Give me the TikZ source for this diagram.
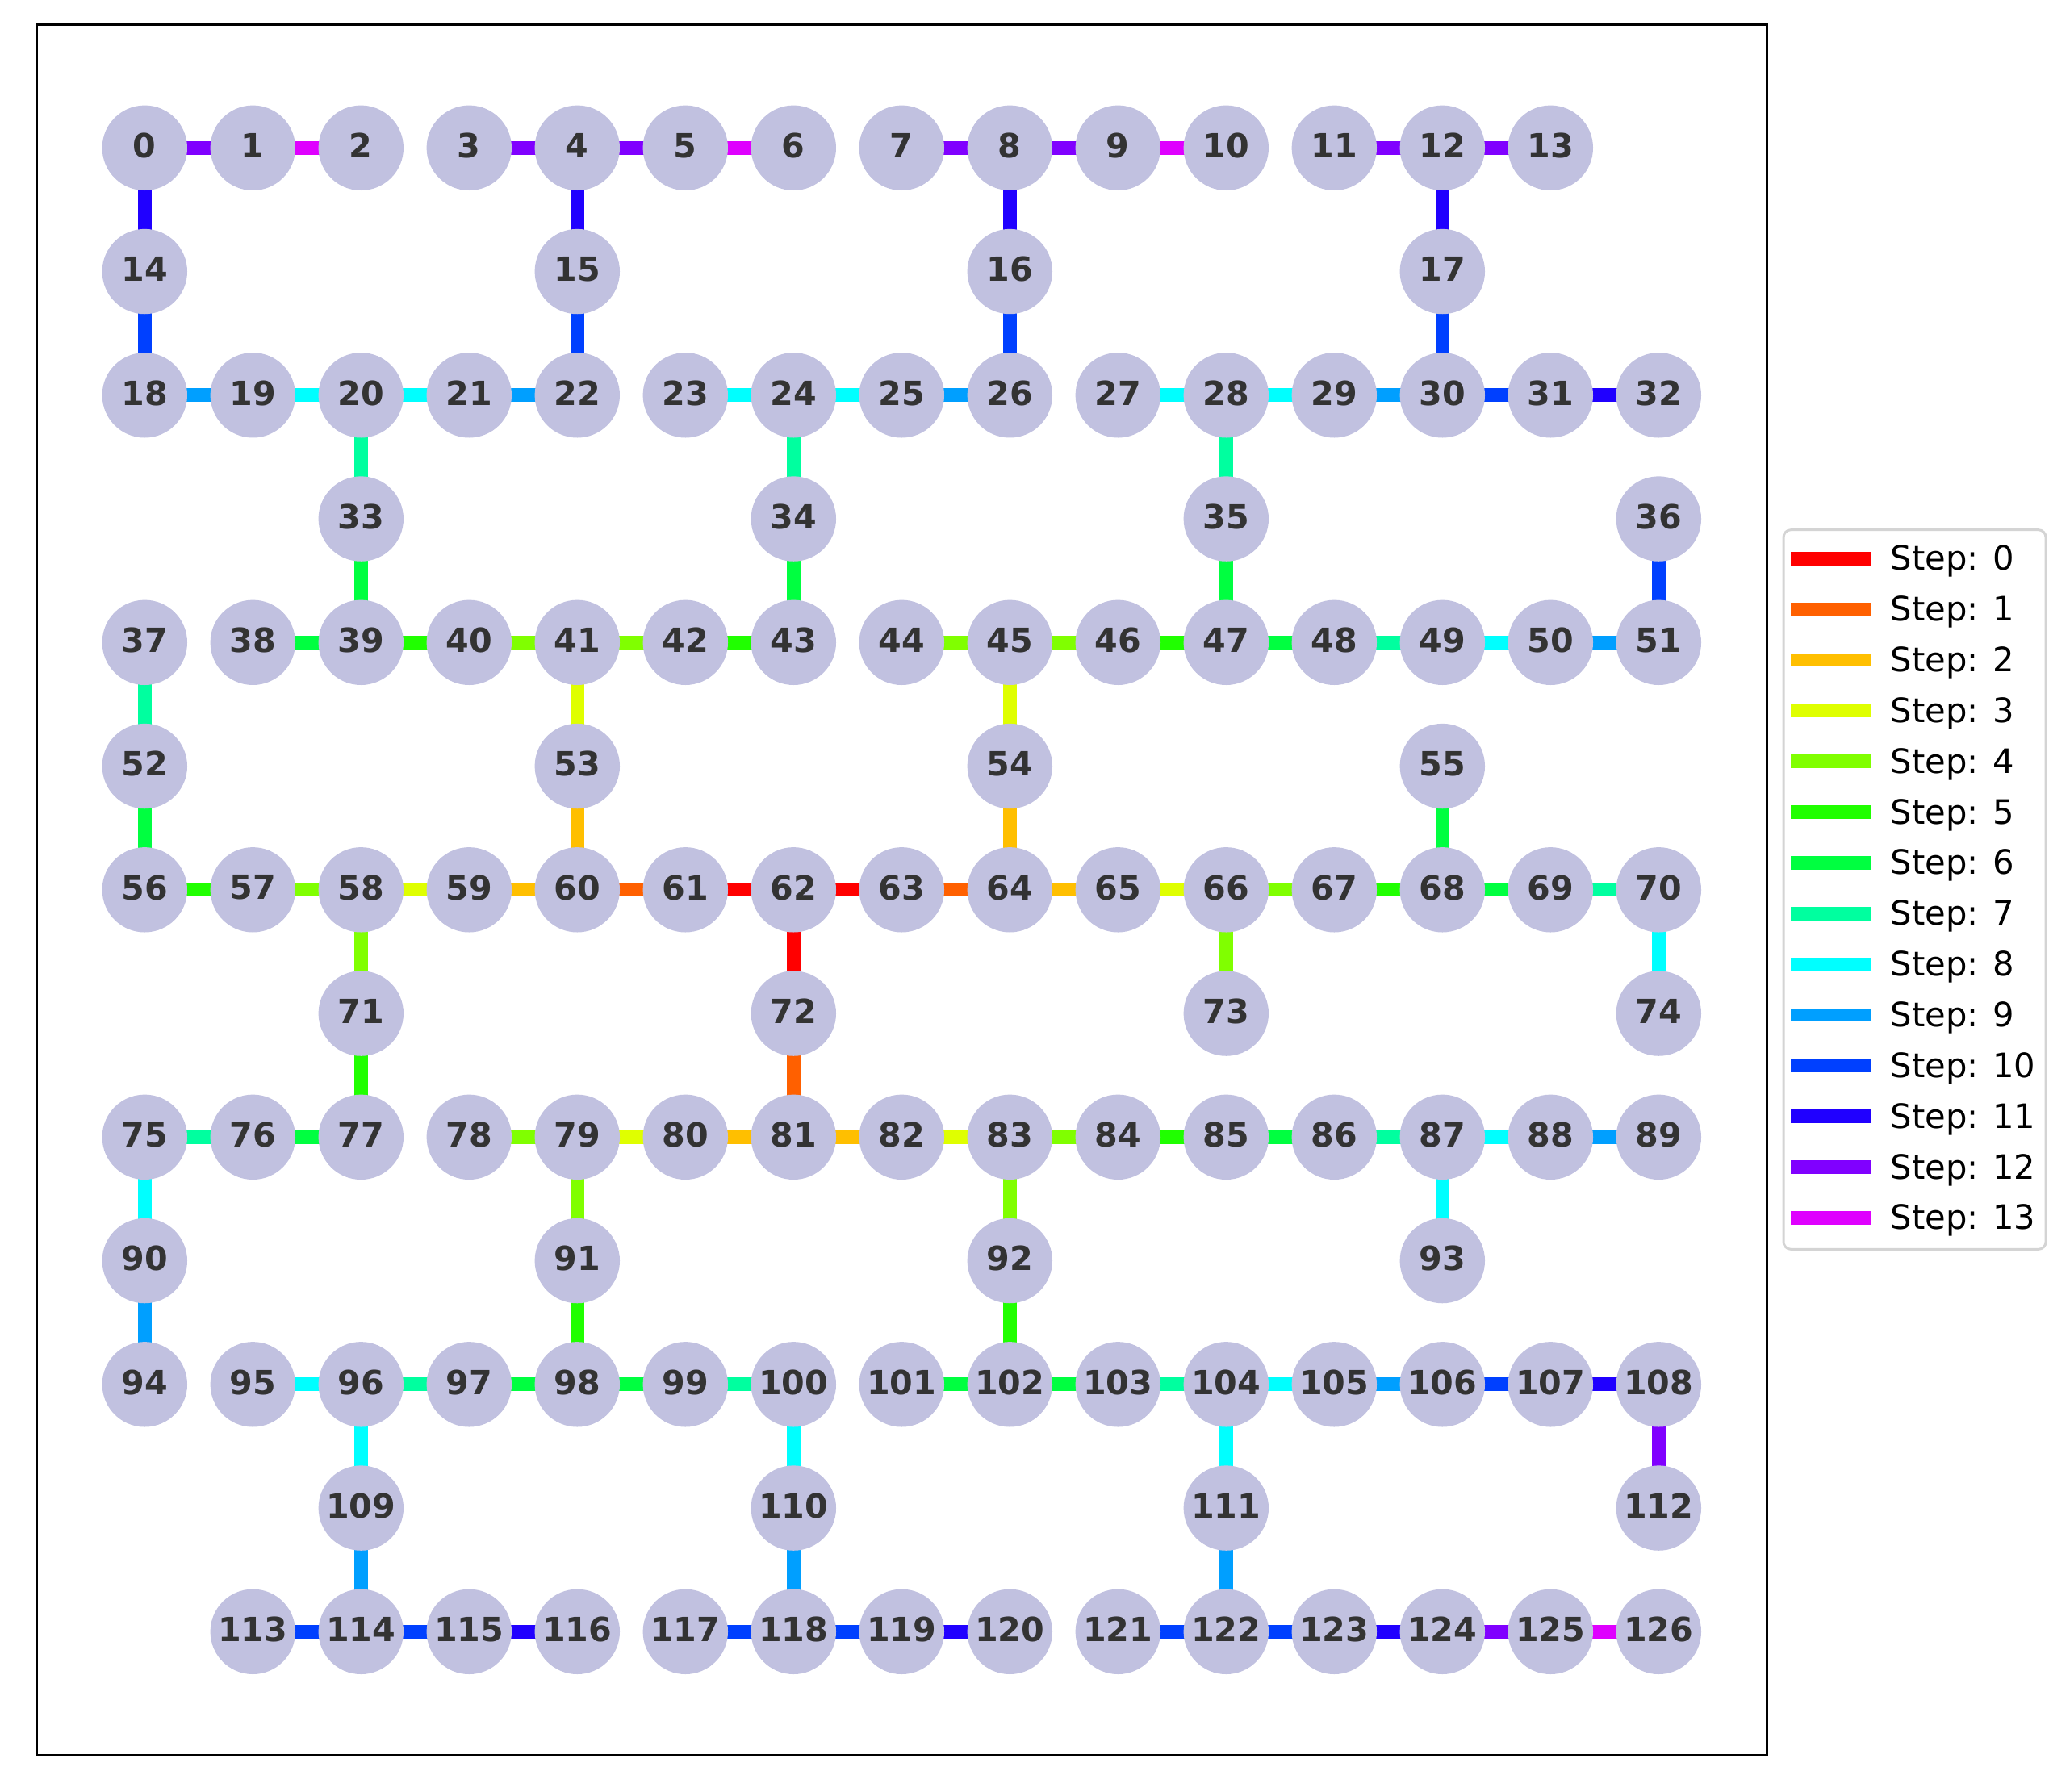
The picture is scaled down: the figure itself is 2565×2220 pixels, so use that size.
\documentclass[tikz,border=0pt]{standalone}
\usepackage{fontspec}
\setmainfont{DejaVu Sans}
\usetikzlibrary{backgrounds}
\definecolor{s0}{RGB}{255,0,0}
\definecolor{s1}{RGB}{255,96,0}
\definecolor{s2}{RGB}{255,191,0}
\definecolor{s3}{RGB}{223,255,0}
\definecolor{s4}{RGB}{128,255,0}
\definecolor{s5}{RGB}{32,255,0}
\definecolor{s6}{RGB}{0,255,64}
\definecolor{s7}{RGB}{0,255,159}
\definecolor{s8}{RGB}{0,255,255}
\definecolor{s9}{RGB}{0,159,255}
\definecolor{s10}{RGB}{0,64,255}
\definecolor{s11}{RGB}{32,0,255}
\definecolor{s12}{RGB}{128,0,255}
\definecolor{s13}{RGB}{223,0,255}
\definecolor{nodefill}{RGB}{193,193,224}
\definecolor{lbl}{RGB}{51,51,51}
\definecolor{legedge}{RGB}{212,212,212}
\tikzset{
  vtx/.style={circle, fill=nodefill, minimum size=25.3pt, inner sep=0pt, text=lbl,
    font=\fontsize{9.9}{11}\selectfont\bfseries, text depth=1.44pt},
  stepline/.style={line width=4pt, draw=#1},
  legtext/.style={anchor=base west, inner sep=0pt, font=\fontsize{10}{12}\selectfont},
  frame/.style={line width=0.72pt, draw=black},
  legbox/.style={line width=0.72pt, draw=legedge, fill=white, rounded corners=2.2pt}
}
\begin{document}
\begin{tikzpicture}[x=0.24pt,y=-0.24pt]
\useasboundingbox (0,0) rectangle (2565,2220);
\draw[frame] (45.7,30.5) rectangle (2189.3,2175.3);
% full rows
\foreach \n in {0,...,13} \node[vtx] (n\n) at ({179.3+134*\n},{183.3}) {\n};
\foreach \n in {18,...,32} \node[vtx] (n\n) at ({179.3+134*(\n-18)},{183.3+153.25*2}) {\n};
\foreach \n in {37,...,51} \node[vtx] (n\n) at ({179.3+134*(\n-37)},{183.3+153.25*4}) {\n};
\foreach \n in {56,...,70} \node[vtx] (n\n) at ({179.3+134*(\n-56)},{183.3+153.25*6}) {\n};
\foreach \n in {75,...,89} \node[vtx] (n\n) at ({179.3+134*(\n-75)},{183.3+153.25*8}) {\n};
\foreach \n in {94,...,108} \node[vtx] (n\n) at ({179.3+134*(\n-94)},{183.3+153.25*10}) {\n};
\foreach \n in {113,...,126} \node[vtx] (n\n) at ({179.3+134*(\n-112)},{183.3+153.25*12}) {\n};
% sparse rows
\foreach \n/\c/\r in {14/0/1,15/4/1,16/8/1,17/12/1,
  33/2/3,34/6/3,35/10/3,36/14/3,
  52/0/5,53/4/5,54/8/5,55/12/5,
  71/2/7,72/6/7,73/10/7,74/14/7,
  90/0/9,91/4/9,92/8/9,93/12/9,
  109/2/11,110/6/11,111/10/11,112/14/11}
  \node[vtx] (n\n) at ({179.3+134*\c},{183.3+153.25*\r}) {\n};
% edges
\begin{scope}[on background layer]
\foreach \a/\b in {62/61,62/63,62/72} \draw[stepline=s0] (n\a.center) -- (n\b.center);
\foreach \a/\b in {61/60,63/64,72/81} \draw[stepline=s1] (n\a.center) -- (n\b.center);
\foreach \a/\b in {60/59,60/53,64/54,64/65,81/80,81/82} \draw[stepline=s2] (n\a.center) -- (n\b.center);
\foreach \a/\b in {59/58,53/41,54/45,65/66,80/79,82/83} \draw[stepline=s3] (n\a.center) -- (n\b.center);
\foreach \a/\b in {58/57,58/71,41/40,41/42,45/44,45/46,66/67,66/73,79/78,79/91,83/84,83/92} \draw[stepline=s4] (n\a.center) -- (n\b.center);
\foreach \a/\b in {57/56,71/77,40/39,42/43,46/47,67/68,91/98,84/85,92/102} \draw[stepline=s5] (n\a.center) -- (n\b.center);
\foreach \a/\b in {56/52,77/76,39/33,39/38,43/34,47/35,47/48,68/55,68/69,98/97,98/99,85/86,102/101,102/103} \draw[stepline=s6] (n\a.center) -- (n\b.center);
\foreach \a/\b in {52/37,76/75,33/20,34/24,35/28,48/49,69/70,97/96,99/100,86/87,103/104} \draw[stepline=s7] (n\a.center) -- (n\b.center);
\foreach \a/\b in {75/90,20/19,20/21,24/23,24/25,28/27,28/29,49/50,70/74,96/95,96/109,100/110,87/88,87/93,104/105,104/111} \draw[stepline=s8] (n\a.center) -- (n\b.center);
\foreach \a/\b in {90/94,19/18,21/22,25/26,29/30,50/51,109/114,110/118,88/89,105/106,111/122} \draw[stepline=s9] (n\a.center) -- (n\b.center);
\foreach \a/\b in {18/14,22/15,26/16,30/17,30/31,51/36,114/113,114/115,118/117,118/119,106/107,122/121,122/123} \draw[stepline=s10] (n\a.center) -- (n\b.center);
\foreach \a/\b in {14/0,15/4,16/8,17/12,31/32,115/116,119/120,107/108,123/124} \draw[stepline=s11] (n\a.center) -- (n\b.center);
\foreach \a/\b in {0/1,4/3,4/5,8/7,8/9,12/11,12/13,108/112,124/125} \draw[stepline=s12] (n\a.center) -- (n\b.center);
\foreach \a/\b in {1/2,5/6,9/10,125/126} \draw[stepline=s13] (n\a.center) -- (n\b.center);
\end{scope}
% legend
\draw[legbox] (2210,656.7) rectangle (2535,1548.3);
\foreach \k in {0,...,13} {
  \draw[stepline=s\k] (2219,{692.3+62.85*\k}) -- (2319,{692.3+62.85*\k});
  \node[legtext] (leg\k) at (2342,{692.3+62.85*\k+14.5}) {Step: \k};
}
\end{tikzpicture}
\end{document}
